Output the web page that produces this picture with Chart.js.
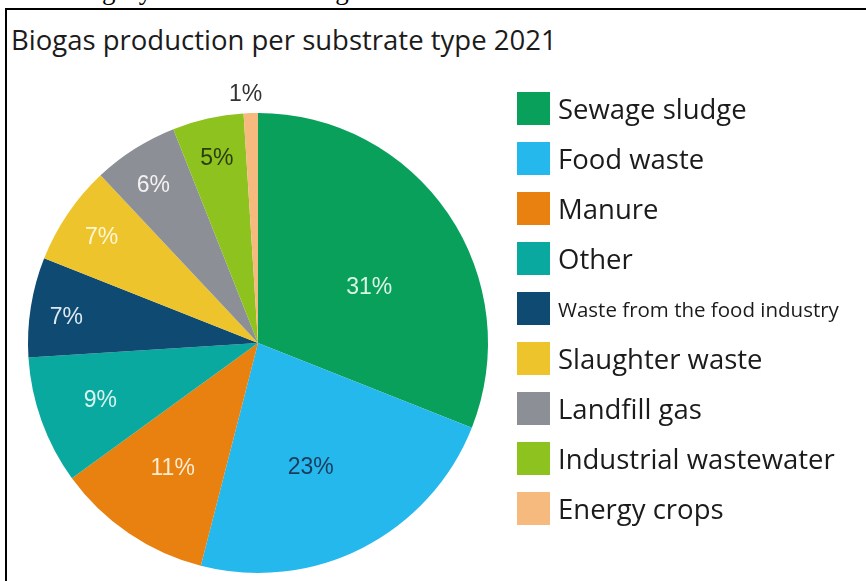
<!DOCTYPE html>
<html>
<head>
<meta charset="utf-8">
<script src="https://cdn.jsdelivr.net/npm/chart.js@4.4.1/dist/chart.umd.min.js"></script>
<style>
  body { margin: 0; width: 866px; height: 581px; overflow: hidden; background: #fff; position: relative; font-family: "Open Sans", sans-serif; color: #1b1b1b; }
  #cut { position: absolute; left: 30px; top: -25px; font-family: "Liberation Serif", serif; font-size: 27px; letter-spacing: 1px; white-space: nowrap; color: #000; }
  #frame { position: absolute; left: 5px; top: 8px; width: 900px; height: 600px; border-left: 2px solid #000; border-top: 2px solid #000; background: #fff; }
  #title { position: absolute; left: 11px; top: 21px; font-size: 27.5px; white-space: nowrap; }
  #pie { position: absolute; left: 0; top: 60px; }
  #legend { position: absolute; left: 517px; top: 0; }
  .item { position: absolute; left: 0; height: 33px; display: flex; align-items: center; white-space: nowrap; }
  .sw { width: 33px; height: 33px; margin-right: 8px; flex: none; }
</style>
</head>
<body>
<div id="cut">Sorting by the total of biogas</div>
<div id="frame"></div>
<div id="title">Biogas production per substrate type 2021</div>
<canvas id="pie" width="520" height="521"></canvas>
<div id="legend"></div>
<script>
const substrates = [
  "Sewage sludge",
  "Food waste",
  "Manure",
  "Other",
  "Waste from the food industry",
  "Slaughter waste",
  "Landfill gas",
  "Industrial wastewater",
  "Energy crops"
];

const shares = [31, 23, 11, 9, 7, 7, 6, 5, 1];

const sliceColors = [
  "#08a05b",
  "#25b8ec",
  "#e8810f",
  "#0aa9a0",
  "#0e4a72",
  "#eec42c",
  "#8c9096",
  "#8dc21f",
  "#f6b97e"
];

// text colour and placement of the percentage inside each slice
const labelColors = ["#dcf6e4", "#1c3b5c", "#fdebd2", "#d9f4ef", "#dde8f0", "#fff6d6", "#f2f2f2", "#2b3d0f", "#333333"];
const labelAngleFrac = [0.57, 0.55, 0.5, 0.49, 0.44, 0.49, 0.44, 0.5, 0.2];
const labelRadius = [0.54, 0.59, 0.66, 0.73, 0.84, 0.82, 0.82, 0.82, 1.08];

const pctLabels = {
  id: "pctLabels",
  afterDatasetsDraw(chart) {
    const ctx = chart.ctx;
    const arcs = chart.getDatasetMeta(0).data;
    ctx.save();
    ctx.font = '23px "Liberation Sans", Arial, sans-serif';
    ctx.textAlign = "center";
    ctx.textBaseline = "middle";
    arcs.forEach((arc, i) => {
      const a = arc.startAngle + (arc.endAngle - arc.startAngle) * labelAngleFrac[i];
      const r = arc.outerRadius * labelRadius[i];
      ctx.fillStyle = labelColors[i];
      ctx.fillText(shares[i] + "%", arc.x + Math.cos(a) * r, arc.y + Math.sin(a) * r);
    });
    ctx.restore();
  }
};

const chart = new Chart(document.getElementById("pie"), {
  type: "pie",
  data: {
    labels: substrates,
    datasets: [{
      data: shares,
      backgroundColor: sliceColors,
      borderWidth: 0
    }]
  },
  options: {
    responsive: false,
    animation: false,
    layout: { padding: { left: 28, top: 53, right: 32, bottom: 8 } },
    plugins: {
      legend: { display: false },
      tooltip: { enabled: false }
    }
  },
  plugins: [pctLabels]
});

// legend on the right, one row per substrate
const legend = document.getElementById("legend");
substrates.forEach((name, i) => {
  const row = document.createElement("div");
  row.className = "item";
  row.style.top = (92 + i * 50) + "px";
  const sw = document.createElement("div");
  sw.className = "sw";
  sw.style.background = sliceColors[i];
  const txt = document.createElement("span");
  txt.textContent = name;
  txt.style.fontSize = name.length > 22 ? "20.5px" : "27.5px";
  row.appendChild(sw);
  row.appendChild(txt);
  legend.appendChild(row);
});
</script>
</body>
</html>
